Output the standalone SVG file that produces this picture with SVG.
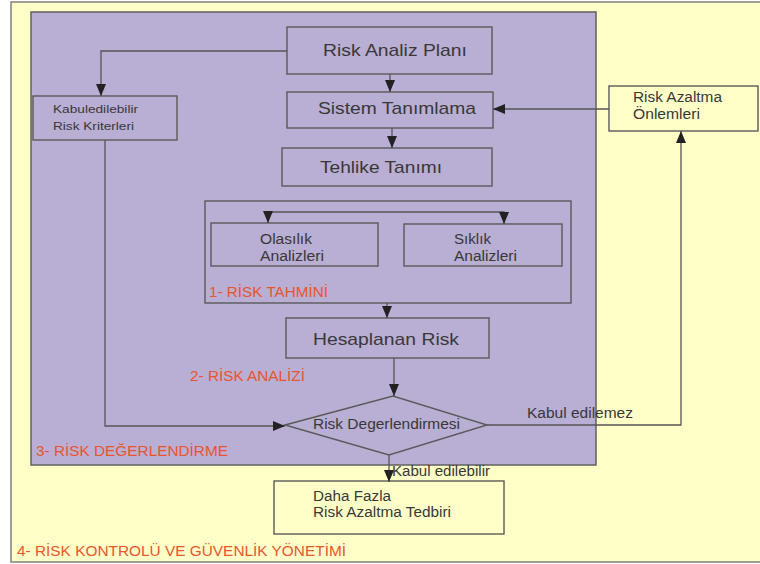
<svg xmlns="http://www.w3.org/2000/svg" width="760" height="564" viewBox="0 0 760 564">
<defs>
<marker id="arr" markerUnits="userSpaceOnUse" markerWidth="12" markerHeight="10" refX="12" refY="5" orient="auto" viewBox="0 0 12 10">
<path d="M0,0 L12,5 L0,10 z" fill="#222"/>
</marker>
</defs>
<style>
.box{fill:none;stroke:#5a5a5a;stroke-width:1.4}
.t{font-family:"Liberation Sans",Arial,sans-serif;fill:#383838;}
.big{font-size:17px}
.md{font-size:14px}
.sm{font-size:11.5px}
.lbl{font-family:"Liberation Sans",Arial,sans-serif;fill:#E9552B;font-size:14.5px}
.conn{fill:none;stroke:#555;stroke-width:1.3}
</style>
<rect x="11" y="2" width="760" height="560" fill="#FFFFC8" stroke="#808080" stroke-width="1.5"/>
<rect id="region-3" x="31" y="12" width="565" height="453" fill="#B9AED4" stroke="#606060" stroke-width="1.5"/>

<g id="risk-analiz-plani">
<rect class="box" x="287" y="27" width="205" height="47"/>
<text class="t big" x="323" y="56" textLength="144" lengthAdjust="spacingAndGlyphs">Risk Analiz Planı</text>
</g>
<g id="sistem-tanimlama">
<rect class="box" x="287" y="92" width="206" height="36"/>
<text class="t big" x="318" y="114" textLength="158" lengthAdjust="spacingAndGlyphs">Sistem Tanımlama</text>
</g>
<g id="tehlike-tanimi">
<rect class="box" x="282" y="148" width="210" height="38"/>
<text class="t big" x="320" y="173" textLength="122" lengthAdjust="spacingAndGlyphs">Tehlike Tanımı</text>
</g>
<g id="risk-tahmini">
<rect class="box" x="205" y="201" width="366" height="102"/>
<text class="lbl" x="209" y="297" textLength="119" lengthAdjust="spacingAndGlyphs">1- RİSK TAHMİNİ</text>
</g>
<g id="olasilik-analizleri">
<rect class="box" x="211" y="223" width="167" height="43"/>
<text class="t md" x="260" y="244" textLength="52" lengthAdjust="spacingAndGlyphs">Olasılık</text>
<text class="t md" x="260" y="261" textLength="64" lengthAdjust="spacingAndGlyphs">Analizleri</text>
</g>
<g id="siklik-analizleri">
<rect class="box" x="404" y="224" width="158" height="42"/>
<text class="t md" x="454" y="244" textLength="37" lengthAdjust="spacingAndGlyphs">Sıklık</text>
<text class="t md" x="454" y="261" textLength="63" lengthAdjust="spacingAndGlyphs">Analizleri</text>
</g>
<g id="hesaplanan-risk">
<rect class="box" x="286" y="318" width="203" height="40"/>
<text class="t big" x="313" y="345" textLength="146" lengthAdjust="spacingAndGlyphs">Hesaplanan Risk</text>
</g>
<g id="risk-degerlendirmesi">
<polygon class="box" points="285,425 393,396 487,425 389,455"/>
<text class="t md" x="313" y="429" textLength="147" lengthAdjust="spacingAndGlyphs">Risk Degerlendirmesi</text>
</g>
<g id="kabuledilebilir-risk-kriterleri">
<rect class="box" x="33" y="96" width="144" height="44"/>
<text class="t sm" x="53" y="113" textLength="85" lengthAdjust="spacingAndGlyphs">Kabuledilebilir</text>
<text class="t sm" x="53" y="130" textLength="81" lengthAdjust="spacingAndGlyphs">Risk Kriterleri</text>
</g>
<g id="risk-azaltma-onlemleri">
<rect class="box" x="609" y="86" width="149" height="45"/>
<text class="t md" x="633" y="102" textLength="89" lengthAdjust="spacingAndGlyphs">Risk Azaltma</text>
<text class="t md" x="633" y="119" textLength="67" lengthAdjust="spacingAndGlyphs">Önlemleri</text>
</g>
<g id="daha-fazla-risk-azaltma-tedbiri">
<rect class="box" x="274" y="481" width="230" height="53"/>
<text class="t md" x="313" y="501" textLength="78" lengthAdjust="spacingAndGlyphs">Daha Fazla</text>
<text class="t md" x="313" y="517" textLength="138" lengthAdjust="spacingAndGlyphs">Risk Azaltma Tedbiri</text>
</g>

<g id="connectors">
<path class="conn" d="M287,51 H101 V96" marker-end="url(#arr)"/>
<path class="conn" d="M390,74 V92" marker-end="url(#arr)"/>
<path class="conn" d="M392,128 V148" marker-end="url(#arr)"/>
<path class="conn" d="M386,212 H268 V223" marker-end="url(#arr)"/>
<path class="conn" d="M386,212 H504 V224" marker-end="url(#arr)"/>
<path class="conn" d="M387,303 V318" marker-end="url(#arr)"/>
<path class="conn" d="M394,358 V396" marker-end="url(#arr)"/>
<path class="conn" d="M105,140 V426 H285" marker-end="url(#arr)"/>
<path class="conn" d="M389,455 V482" marker-end="url(#arr)"/>
<path class="conn" d="M487,425 H681 V131" marker-end="url(#arr)"/>
<path class="conn" d="M609,109 H493" marker-end="url(#arr)"/>
</g>

<g id="labels">
<text class="lbl" x="190" y="381" textLength="115" lengthAdjust="spacingAndGlyphs">2- RİSK ANALİZİ</text>
<text class="lbl" x="36" y="456" textLength="192" lengthAdjust="spacingAndGlyphs">3- RİSK DEĞERLENDİRME</text>
<text class="lbl" x="17" y="556" textLength="329" lengthAdjust="spacingAndGlyphs">4- RİSK KONTROLÜ VE GÜVENLİK YÖNETİMİ</text>
<text class="t md" x="392" y="476" textLength="98" lengthAdjust="spacingAndGlyphs">Kabul edilebilir</text>
<text class="t md" x="527" y="418" textLength="106" lengthAdjust="spacingAndGlyphs">Kabul edilemez</text>
</g>
</svg>
